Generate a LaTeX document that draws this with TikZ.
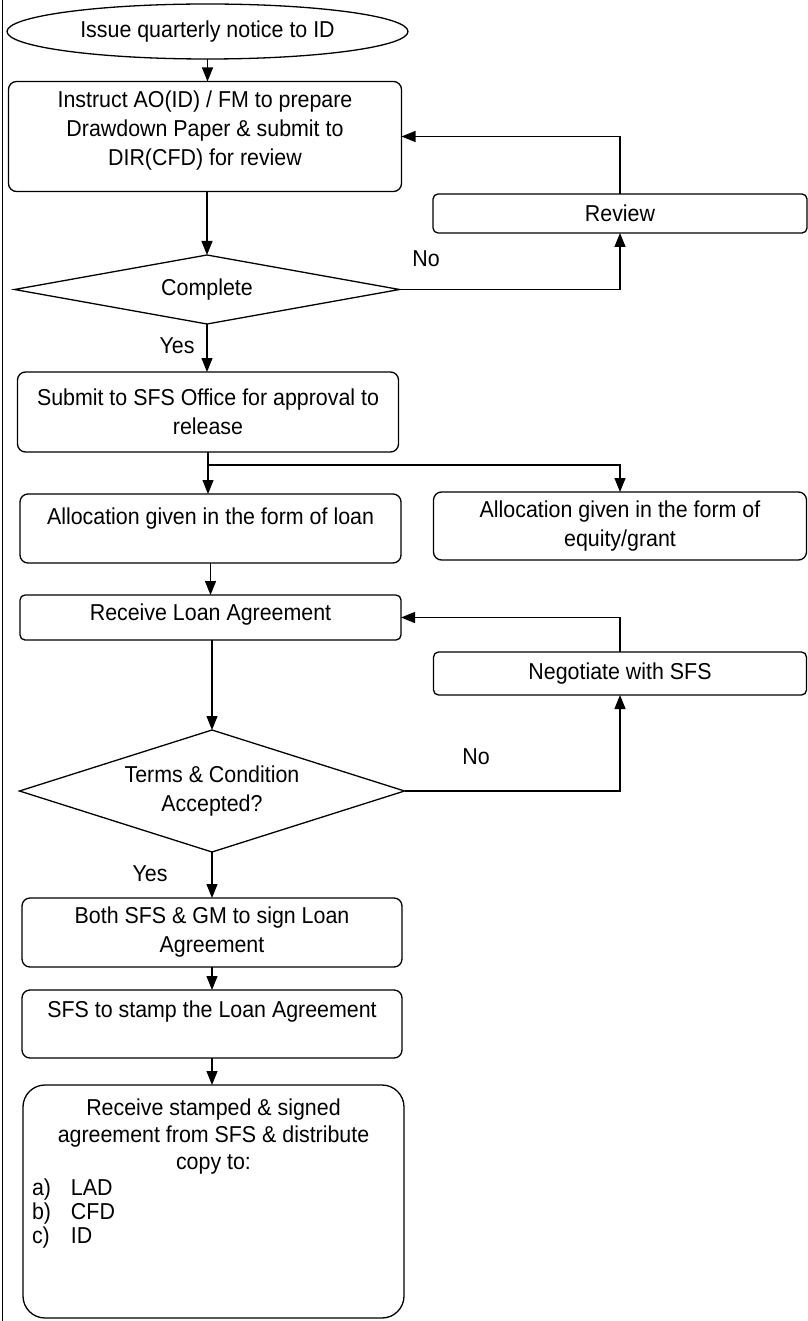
\documentclass[tikz,border=0pt]{standalone}
\usepackage{fontspec}
\setmainfont{Liberation Sans}[FakeStretch=0.93]
\usetikzlibrary{shapes.geometric,arrows.meta}
% shift text up inside a box without changing the box's reported size
\newcommand\lift[2]{\raisebox{#1}[\height][\depth]{#2}}

\begin{document}
\begin{tikzpicture}[x=1pt,y=-1pt,
  every node/.style={font=\fontsize{23}{29}\selectfont, inner sep=0pt, outer sep=0pt},
  stepbox/.style={draw, line width=1.3pt, rounded corners=#1, align=center},
  stepbox/.default=8pt,
  decision/.style={draw, line width=1.3pt, diamond, align=center},
  terminal/.style={draw, line width=1.3pt, ellipse, align=center},
  flow/.style={line width=1.2pt, -{Triangle[length=14pt,width=11pt]}},
  link/.style={line width=1.2pt},
]
\useasboundingbox (0,0) rectangle (807,1321);

% page rule along the left edge
\draw[line width=1.6pt] (2.5,0) -- (2.5,1321);

% process steps
\node[terminal, minimum width=401, minimum height=55] (start) at (207.5,31.5) {Issue quarterly notice to ID};
\node[stepbox, minimum width=393, minimum height=110] (instr) at (205,136.5)
  {\lift{6pt}{\begin{tabular}{@{}c@{}}Instruct AO(ID) / FM to prepare\\Drawdown Paper \& submit to\\DIR(CFD) for review\end{tabular}}};
\node[stepbox=5pt, minimum width=374, minimum height=39] (review) at (620,213.5) {Review};
\node[decision, minimum width=385, minimum height=69, aspect=5.6] (complete) at (207,289.5) {Complete};
\node[stepbox, minimum width=381, minimum height=80] (submit) at (208,412) {Submit to SFS Office for approval to\\release};
\node[stepbox, minimum width=381, minimum height=69] (loan) at (210.5,528.5) {\lift{10pt}{Allocation given in the form of loan}};
\node[stepbox, minimum width=373, minimum height=68] (equity) at (620,526) {Allocation given in the form of\\equity/grant};
\node[stepbox=5pt, minimum width=381, minimum height=45] (receive) at (210.5,617.5) {\lift{3pt}{Receive Loan Agreement}};
\node[stepbox=5pt, minimum width=373, minimum height=43] (negotiate) at (620,673.5) {Negotiate with SFS};
\node[decision, minimum width=385, minimum height=122, aspect=3.2] (terms) at (212,791) {Terms \& Condition\\Accepted?};
\node[stepbox, minimum width=380, minimum height=69] (sign) at (212,932.5) {Both SFS \& GM to sign Loan\\Agreement};
\node[stepbox, minimum width=380, minimum height=68] (stamp) at (212,1024) {\lift{12pt}{SFS to stamp the Loan Agreement}};
\node[stepbox=22pt, minimum width=381, minimum height=233] (final) at (213.5,1201.5)
  {\begin{minipage}[c][225pt][t]{371pt}
   \vspace*{10pt}
   \centering
   \fontsize{23}{27}\selectfont
   Receive stamped \& signed\\
   agreement from SFS \& distribute\\
   copy to:\par
   \vspace{1.5pt}
   \fontsize{23}{24}\selectfont
   \raggedright
   \hspace*{4pt}\makebox[39pt][l]{a)}LAD\\
   \hspace*{4pt}\makebox[39pt][l]{b)}CFD\\
   \hspace*{4pt}\makebox[39pt][l]{c)}ID\par
   \end{minipage}};

% branch labels
\node (no1) at (426,259) {No};
\node (yes1) at (177,346) {Yes};
\node (no2) at (476,757) {No};
\node (yes2) at (150,874) {Yes};

% connectors
\draw[flow] (start.south) -- (start.south |- instr.north);
\draw[flow] (complete.north |- instr.south) -- (complete.north);
\draw[flow] (complete.east) -| (review.south);
\draw[flow] (review.north) |- (instr.east);
\draw[flow] (complete.south) -- (complete.south |- submit.north);
\draw[link] (submit.south) -- ++(0,13) coordinate (split);
\draw[flow] (split) -- (split |- loan.north);
\draw[flow] (split) -| (equity.north);
\draw[flow] (loan.south) -- (loan.south |- receive.north);
\draw[flow] (terms.north |- receive.south) -- (terms.north);
\draw[flow] (terms.east) -| (negotiate.south);
\draw[flow] (negotiate.north) |- (receive.east);
\draw[flow] (terms.south) -- (terms.south |- sign.north);
\draw[flow] (sign.south) -- (sign.south |- stamp.north);
\draw[flow] (stamp.south) -- (stamp.south |- final.north);
\end{tikzpicture}
\end{document}
